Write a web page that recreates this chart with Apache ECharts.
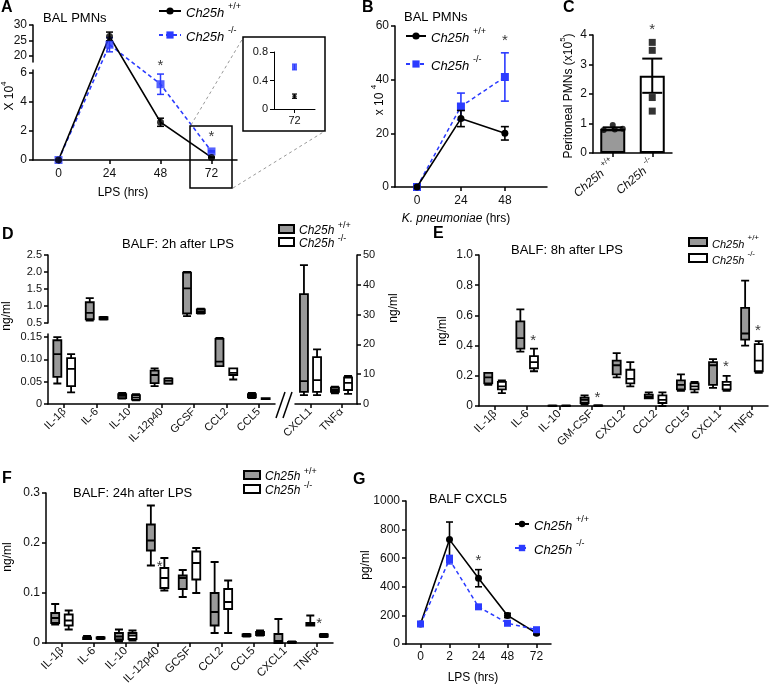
<!DOCTYPE html>
<html><head><meta charset="utf-8">
<script src="https://cdn.jsdelivr.net/npm/echarts@6/dist/echarts.min.js"></script>
<style>html,body{margin:0;padding:0;background:#fff}#c{width:769px;height:693px}</style>
</head><body><div id="c"></div>
<script>
// ================= DATA =================
// Panel A: BAL PMNs after LPS (x10^4)
const aHours = ['0', '24', '48', '72'];
const aWtMean = [0, 26.3, 2.6, 0.18];
const aWtErr  = [0, 1.4, 0.28, 0.03];
const aKoMean = [0, 23.6, 5.22, 0.59];
const aKoErr  = [0, 2.3, 0.7, 0.04];
const aBreak = 6.2;
const aLowTicks = [0, 2, 4, 6];
const aHighTicks = [20, 25, 30];
const aStars = [['48', 6.7], ['72', 1.8]];

// Panel B: BAL PMNs after K. pneumoniae (x10^4)
const bHours = [0, 24, 48];
const bWtMean = [0, 25.5, 20];
const bWtErr  = [0, 3, 2.5];
const bKoMean = [0, 30, 41];
const bKoErr  = [0, 5, 9];
const bTicksX = [0, 24, 48];
const bStars = [[48, 55.5]];

// Panel C: peritoneal PMNs (x10^5)
const cGroups = ['wt', 'ko'];
const cMean = [0.82, 2.62];
const cSem  = [0.05, 0.58];
const cWtPoints = [0.95, 0.78, 0.80, 0.82];
const cKoPoints = [3.75, 3.48, 1.88, 1.42];
const cStars = [['ko', 4.27]];

// Panel D: BALF 2h after LPS  [min, Q1, median, Q3, max]
const dLeftCats = ['IL-1β', 'IL-6', 'IL-10', 'IL-12p40', 'GCSF', 'CCL2', 'CCL5'];
const dRightCats = ['CXCL1', 'TNFα'];
const dBreak = 0.5;
const dWtLeft = [
  [0.046, 0.061, 0.112, 0.143, 0.150],
  [0.57, 0.61, 0.80, 1.11, 1.23],
  [0.012, 0.013, 0.018, 0.022, 0.025],
  [0.040, 0.047, 0.065, 0.075, 0.080],
  [0.70, 0.78, 1.52, 1.98, 2.00],
  [0.085, 0.085, 0.095, 0.146, 0.148],
  [0.013, 0.015, 0.019, 0.022, 0.025]
];
const dKoLeft = [
  [0.026, 0.040, 0.079, 0.103, 0.112],
  [0.60, 0.61, 0.64, 0.67, 0.68],
  [0.008, 0.010, 0.015, 0.020, 0.022],
  [0.045, 0.046, 0.052, 0.057, 0.058],
  [0.78, 0.79, 0.84, 0.90, 0.92],
  [0.055, 0.065, 0.070, 0.080, 0.080],
  [0.011, 0.011, 0.012, 0.013, 0.013]
];
const dWtRight = [[3, 4.1, 7.7, 36.9, 46.6], [3.6, 4.1, 4.7, 5.5, 5.8]];
const dKoRight = [[3, 4.1, 8, 15.7, 18.3], [3.4, 4.7, 7.1, 8.9, 9.4]];

// Panel E: BALF 8h after LPS
const eCats = ['IL-1β', 'IL-6', 'IL-10', 'GM-CSF', 'CXCL2', 'CCL2', 'CCL5', 'CXCL1', 'TNFα'];
const eWt = [
  [0.14, 0.15, 0.19, 0.22, 0.22],
  [0.36, 0.38, 0.45, 0.56, 0.64],
  [0.000, 0.001, 0.002, 0.003, 0.004],
  [0.01, 0.02, 0.04, 0.055, 0.07],
  [0.19, 0.21, 0.27, 0.30, 0.35],
  [0.05, 0.05, 0.06, 0.075, 0.09],
  [0.10, 0.11, 0.14, 0.17, 0.21],
  [0.12, 0.14, 0.27, 0.29, 0.31],
  [0.40, 0.44, 0.48, 0.65, 0.83]
];
const eKo = [
  [0.085, 0.11, 0.13, 0.16, 0.17],
  [0.23, 0.25, 0.29, 0.33, 0.38],
  [0.000, 0.001, 0.002, 0.003, 0.004],
  [0.000, 0.001, 0.003, 0.004, 0.005],
  [0.13, 0.15, 0.18, 0.24, 0.29],
  [0.00, 0.02, 0.04, 0.07, 0.09],
  [0.09, 0.11, 0.13, 0.15, 0.16],
  [0.10, 0.11, 0.14, 0.16, 0.20],
  [0.22, 0.23, 0.30, 0.41, 0.43]
];
const eStars = [['IL-6', 0.45], ['GM-CSF', 0.075], ['CXCL1', 0.28], ['TNFα', 0.52]];

// Panel F: BALF 24h after LPS
const fCats = ['IL-1β', 'IL-6', 'IL-10', 'IL-12p40', 'GCSF', 'CCL2', 'CCL5', 'CXCL1', 'TNFα'];
const fWt = [
  [0.037, 0.040, 0.050, 0.060, 0.078],
  [0.008, 0.008, 0.010, 0.011, 0.014],
  [0.003, 0.007, 0.013, 0.020, 0.027],
  [0.155, 0.185, 0.205, 0.237, 0.275],
  [0.092, 0.108, 0.130, 0.135, 0.146],
  [0.020, 0.035, 0.062, 0.100, 0.162],
  [0.013, 0.014, 0.015, 0.017, 0.018],
  [0.000, 0.000, 0.004, 0.018, 0.048],
  [0.035, 0.035, 0.037, 0.040, 0.055]
];
const fKo = [
  [0.027, 0.035, 0.045, 0.057, 0.065],
  [0.008, 0.009, 0.010, 0.011, 0.012],
  [0.005, 0.008, 0.015, 0.020, 0.025],
  [0.105, 0.110, 0.130, 0.150, 0.170],
  [0.100, 0.127, 0.160, 0.183, 0.190],
  [0.020, 0.068, 0.082, 0.108, 0.125],
  [0.015, 0.016, 0.018, 0.022, 0.025],
  [0.000, 0.001, 0.0015, 0.002, 0.003],
  [0.012, 0.013, 0.015, 0.017, 0.018]
];
const fStars = [['IL-12p40', 0.159], ['TNFα', 0.044]];

// Panel G: BALF CXCL5 (pg/ml)
const gHours = ['0', '2', '24', '48', '72'];
const gWtMean = [140, 730, 460, 200, 75];
const gWtErr  = [10, 123, 60, 15, 10];
const gKoMean = [140, 590, 260, 145, 100];
const gKoErr  = [10, 30, 15, 10, 10];
const gStars = [['24', 601]];

// ================= STYLE / HELPERS =================
const FONT = "'Liberation Sans', Arial, Helvetica, sans-serif";
const BLUE = '#2b3bff', GRAY = '#999999', BLACK = '#000000';
const NA = ['-', '-', '-', '-', '-'];

function merge(a, b) {
  const o = Object.assign({}, a);
  for (const k in b) {
    if (b[k] && typeof b[k] === 'object' && !Array.isArray(b[k]) && a[k] && typeof a[k] === 'object' && !Array.isArray(a[k])) o[k] = merge(a[k], b[k]);
    else o[k] = b[k];
  }
  return o;
}
const AX = {
  axisLine: {show: true, onZero: false, lineStyle: {color: BLACK, width: 1.5}},
  axisTick: {show: true, length: 4, lineStyle: {color: BLACK, width: 1.5}},
  axisLabel: {color: '#111', fontFamily: FONT, fontSize: 12, margin: 6},
  splitLine: {show: false}
};
function catX(g, data, extra) {
  return merge(merge(AX, {type: 'category', gridIndex: g, data, boundaryGap: true,
    axisTick: {alignWithLabel: true}, axisLabel: {interval: 0}}), extra || {});
}
function valY(g, extra) { return merge(merge(AX, {type: 'value', gridIndex: g}), extra || {}); }
const fmt = d => v => (v === 0 ? '0' : v.toFixed(d));

function errSeries(ai, data, color, cap, lw, z) {
  return {type: 'custom', xAxisIndex: ai, yAxisIndex: ai, data, z: z || 3, silent: true, clip: false,
    encode: {x: 0, y: [1, 2]},
    renderItem(params, api) {
      const x = api.value(0), lo = api.value(1), hi = api.value(2);
      const p1 = api.coord([x, lo]), p2 = api.coord([x, hi]);
      const st = {stroke: color, lineWidth: lw, fill: null};
      return {type: 'group', children: [
        {type: 'line', shape: {x1: p1[0], y1: p1[1], x2: p2[0], y2: p2[1]}, style: st},
        {type: 'line', shape: {x1: p1[0] - cap, y1: p1[1], x2: p1[0] + cap, y2: p1[1]}, style: st},
        {type: 'line', shape: {x1: p2[0] - cap, y1: p2[1], x2: p2[0] + cap, y2: p2[1]}, style: st}
      ]};
    }};
}
function errData(xs, means, errs, keep) {
  return means.map((v, i) => (errs[i] > 0 && (!keep || keep(v))) ? [xs[i], v - errs[i], v + errs[i]] : null).filter(Boolean);
}
function starSeries(ai, data, dx, size) {
  return {type: 'scatter', xAxisIndex: ai, yAxisIndex: ai, data, symbol: 'circle', symbolSize: 1,
    itemStyle: {color: 'rgba(0,0,0,0)'}, silent: true, clip: false, z: 6,
    label: {show: true, position: 'inside', formatter: '*', color: BLACK, fontSize: size || 15,
      fontFamily: FONT, offset: [dx || 0, 3]}};
}
function boxSeries(ai, data, fill, name) {
  return {type: 'boxplot', name, xAxisIndex: ai, yAxisIndex: ai, data, boxWidth: [8, 8],
    itemStyle: {color: fill, borderColor: BLACK, borderWidth: 1.8}, emphasis: {disabled: true}, silent: true};
}
function legendOne(name, left, yc, w, h, fs, lh) {
  lh = lh || 17;
  return {show: true, selectedMode: false, orient: 'vertical', left, top: yc - lh / 2, padding: 0,
    itemWidth: w, itemHeight: h, data: [name],
    formatter: n => (n.endsWith('wt') ? '{i|Ch25h} {s|+/+}' : '{i|Ch25h} {s|-/-}'),
    textStyle: {color: BLACK, fontFamily: FONT, fontSize: fs,
      rich: {i: {fontStyle: 'italic', fontSize: fs, fontFamily: FONT, lineHeight: lh, verticalAlign: 'bottom'},
             s: {fontSize: Math.round(fs * 0.72), fontFamily: FONT, lineHeight: 9, verticalAlign: 'top'}}}};
}
function boxLegend(name, left, yc, w, fs, fill) {
  const l = legendOne(name, left, yc, w, 8, fs, 16);
  l.data = [{name, icon: 'rect', itemStyle: {color: fill, borderColor: BLACK, borderWidth: 2}}];
  return l;
}
function gtext(x, y, text, size, extra) {
  return {type: 'text', x, y, silent: true, z: 50,
    style: Object.assign({text, fill: BLACK, fontFamily: FONT, fontSize: size, align: 'left', verticalAlign: 'middle'}, extra || {})};
}
function vtext(x, y, text, size, rich) {
  return {type: 'text', x, y, rotation: Math.PI / 2, silent: true, z: 50,
    style: {text, fill: BLACK, fontFamily: FONT, fontSize: size, align: 'center', verticalAlign: 'middle', rich: rich || {}}};
}

// ================= GRIDS / AXES =================
const grids = [
  {left: 33, top: 70, width: 204, height: 90},    // 0 A lower
  {left: 33, top: 25, width: 204, height: 37},    // 1 A upper
  {left: 274, top: 52, width: 41, height: 57},    // 2 A inset
  {left: 395, top: 26, width: 152, height: 161},  // 3 B
  {left: 593, top: 35, width: 79, height: 118},   // 4 C
  {left: 48, top: 334, width: 227, height: 70},   // 5 D lower
  {left: 48, top: 255, width: 227, height: 68},   // 6 D upper
  {left: 295, top: 255, width: 62, height: 149},  // 7 D right
  {left: 479, top: 255, width: 289, height: 151}, // 8 E
  {left: 46, top: 493, width: 287, height: 150},  // 9 F
  {left: 406, top: 501, width: 145, height: 143}  // 10 G
].map(g => Object.assign({outerBoundsMode: 'none', containLabel: false}, g));

const cRich = {i: {fontStyle: 'italic', fontSize: 12, fontFamily: FONT, lineHeight: 16, verticalAlign: 'bottom'},
               s: {fontSize: 8, fontFamily: FONT, lineHeight: 8, verticalAlign: 'top'}};
const xAxes = [
  catX(0, aHours, {axisLabel: {margin: 8}}),
  catX(1, aHours, {show: false}),
  catX(2, ['72'], {axisLine: {lineStyle: {width: 1}}, axisTick: {lineStyle: {width: 1}}, axisLabel: {fontSize: 11}}),
  merge(AX, {type: 'value', gridIndex: 3, min: -12, max: 71,
    axisTick: {customValues: bTicksX}, axisLabel: {customValues: bTicksX, margin: 8}}),
  catX(4, cGroups, {axisLabel: {rotate: 40, margin: 8, rich: cRich,
    formatter: v => (v === 'wt' ? '{i|Ch25h} {s|+/+}' : '{i|Ch25h} {s|-/-}')}}),
  catX(5, dLeftCats, {axisLabel: {rotate: 45, fontSize: 11, margin: 6}}),
  catX(6, dLeftCats, {show: false}),
  catX(7, dRightCats, {axisLabel: {rotate: 45, fontSize: 11, margin: 6}}),
  catX(8, eCats, {axisLabel: {rotate: 45, fontSize: 11.5, margin: 6}}),
  catX(9, fCats, {axisLabel: {rotate: 45, fontSize: 11.5, margin: 6}}),
  catX(10, gHours, {axisLabel: {margin: 7}})
];
const yAxes = [
  valY(0, {min: 0, max: aBreak, axisTick: {customValues: aLowTicks}, axisLabel: {customValues: aLowTicks}}),
  valY(1, {min: 18, max: 30, axisTick: {customValues: aHighTicks}, axisLabel: {customValues: aHighTicks}}),
  valY(2, {min: 0, max: 0.8, interval: 0.4, axisLine: {lineStyle: {width: 1}}, axisTick: {lineStyle: {width: 1}},
    axisLabel: {fontSize: 11, formatter: fmt(1)}}),
  valY(3, {min: 0, max: 60, interval: 20}),
  valY(4, {min: 0, max: 4, interval: 1}),
  valY(5, {min: 0, max: 0.157, axisTick: {customValues: [0, 0.05, 0.1, 0.15]},
    axisLabel: {customValues: [0, 0.05, 0.1, 0.15], fontSize: 11, formatter: fmt(2)}}),
  valY(6, {min: 0.5, max: 2.5, interval: 0.5, axisLabel: {fontSize: 11, formatter: fmt(1)}}),
  valY(7, {min: 0, max: 50, interval: 10, position: 'right', axisLabel: {fontSize: 11}}),
  valY(8, {min: 0, max: 1, interval: 0.2, axisLabel: {formatter: fmt(1)}}),
  valY(9, {min: 0, max: 0.3, interval: 0.1, axisLabel: {formatter: fmt(1)}}),
  valY(10, {min: 0, max: 1000, interval: 200, axisLabel: {formatter: v => String(v)}})
];

// ================= SERIES =================
const series = [];
let aLinePts = null;
// Panel A connecting lines across the broken axis (pixels from the library's convertToPixel)
series.push({type: 'custom', coordinateSystem: 'none', data: [0], z: 2, silent: true,
  renderItem() {
    if (!aLinePts) return {type: 'group', children: []};
    return {type: 'group', children: [
      {type: 'polyline', shape: {points: aLinePts.ko}, style: {stroke: BLUE, lineWidth: 1.6, lineDash: [4, 3], fill: null}},
      {type: 'polyline', shape: {points: aLinePts.wt}, style: {stroke: BLACK, lineWidth: 1.6, fill: null}}
    ]};
  }});
// legend carriers for A
series.push({type: 'line', name: 'A_wt', xAxisIndex: 0, yAxisIndex: 0, data: [], symbol: 'circle', symbolSize: 7,
  itemStyle: {color: BLACK}, lineStyle: {color: BLACK, width: 1.8}});
series.push({type: 'line', name: 'A_ko', xAxisIndex: 0, yAxisIndex: 0, data: [], symbol: 'rect', symbolSize: 8,
  itemStyle: {color: BLUE}, lineStyle: {color: BLUE, width: 1.8, type: [4, 3]}});
[0, 1].forEach(g => {
  const keep = g === 1 ? (v => v > aBreak) : (v => v <= aBreak);
  const idx = aHours.map((h, i) => i);
  series.push(errSeries(g, errData(idx, aKoMean, aKoErr, keep), BLUE, 3.5, 1.5, 3));
  series.push(errSeries(g, errData(idx, aWtMean, aWtErr, keep), BLACK, 3.5, 1.5, 3));
  series.push({type: 'scatter', xAxisIndex: g, yAxisIndex: g, symbol: 'rect', symbolSize: 8, z: 4, silent: true,
    itemStyle: {color: BLUE}, data: aKoMean.map((v, i) => keep(v) ? [i, v] : null).filter(Boolean)});
  series.push({type: 'scatter', xAxisIndex: g, yAxisIndex: g, symbol: 'circle', symbolSize: 7, z: 5, silent: true,
    itemStyle: {color: BLACK}, data: aWtMean.map((v, i) => keep(v) ? [i, v] : null).filter(Boolean)});
});
series.push(starSeries(0, aStars, 0, 15));
// A inset (72 h)
series.push(errSeries(2, [[0, aKoMean[3] - aKoErr[3], aKoMean[3] + aKoErr[3]]], BLUE, 2.5, 1.2, 3));
series.push(errSeries(2, [[0, aWtMean[3] - aWtErr[3], aWtMean[3] + aWtErr[3]]], BLACK, 2.5, 1.2, 3));
series.push({type: 'scatter', xAxisIndex: 2, yAxisIndex: 2, symbol: 'rect', symbolSize: 5, z: 4, silent: true,
  itemStyle: {color: BLUE}, data: [[0, aKoMean[3]]]});
series.push({type: 'scatter', xAxisIndex: 2, yAxisIndex: 2, symbol: 'circle', symbolSize: 4, z: 4, silent: true,
  itemStyle: {color: BLACK}, data: [[0, aWtMean[3]]]});

// Panel B
series.push({type: 'line', name: 'B_wt', xAxisIndex: 3, yAxisIndex: 3, data: bHours.map((h, i) => [h, bWtMean[i]]),
  symbol: 'circle', symbolSize: 7, itemStyle: {color: BLACK}, lineStyle: {color: BLACK, width: 1.6}, z: 3, silent: true});
series.push({type: 'line', name: 'B_ko', xAxisIndex: 3, yAxisIndex: 3, data: bHours.map((h, i) => [h, bKoMean[i]]),
  symbol: 'rect', symbolSize: 8, itemStyle: {color: BLUE}, lineStyle: {color: BLUE, width: 1.5, type: [4, 3]}, z: 2, silent: true});
series.push(errSeries(3, errData(bHours, bKoMean, bKoErr), BLUE, 4, 1.6, 2));
series.push(errSeries(3, errData(bHours, bWtMean, bWtErr), BLACK, 4, 1.6, 3));
series.push(starSeries(3, bStars, 0, 15));

// Panel C
series.push({type: 'bar', xAxisIndex: 4, yAxisIndex: 4, barWidth: 25, silent: true, z: 2,
  itemStyle: {borderColor: BLACK, borderWidth: 2},
  data: cMean.map((v, i) => ({value: v, itemStyle: {color: i === 0 ? GRAY : '#ffffff', borderColor: BLACK, borderWidth: 2}}))});
series.push(errSeries(4, cMean.map((v, i) => [i, v - cSem[i], v + cSem[i]]), BLACK, 10, 2, 3));
const cJitter = [0, -9, 2, 10];
series.push({type: 'scatter', xAxisIndex: 4, yAxisIndex: 4, symbol: 'circle', symbolSize: 6, z: 4, silent: true,
  itemStyle: {color: BLACK}, data: cWtPoints.map((v, k) => ({value: [0, v], symbolOffset: [cJitter[k], 0]}))});
series.push({type: 'scatter', xAxisIndex: 4, yAxisIndex: 4, symbol: 'rect', symbolSize: 7, z: 4, silent: true,
  itemStyle: {color: BLACK}, data: cKoPoints.map(v => [1, v])});
series.push(starSeries(4, cStars, 0, 15));

// Panel D
series.push(boxSeries(5, dWtLeft.map(r => (r[0] >= dBreak ? NA : r)), GRAY, 'D_wt'));
series.push(boxSeries(5, dKoLeft.map(r => (r[0] >= dBreak ? NA : r)), '#ffffff', 'D_ko'));
series.push(boxSeries(6, dWtLeft.map(r => (r[0] >= dBreak ? r : NA)), GRAY, 'D_wt_up'));
series.push(boxSeries(6, dKoLeft.map(r => (r[0] >= dBreak ? r : NA)), '#ffffff', 'D_ko_up'));
series.push(boxSeries(7, dWtRight, GRAY, 'D_wt_r'));
series.push(boxSeries(7, dKoRight, '#ffffff', 'D_ko_r'));

// Panel E
series.push(boxSeries(8, eWt, GRAY, 'E_wt'));
series.push(boxSeries(8, eKo, '#ffffff', 'E_ko'));
series.push(starSeries(8, eStars, 6, 15));

// Panel F
series.push(boxSeries(9, fWt, GRAY, 'F_wt'));
series.push(boxSeries(9, fKo, '#ffffff', 'F_ko'));
series.push(starSeries(9, fStars, 2, 15));

// Panel G
series.push({type: 'line', name: 'G_wt', xAxisIndex: 10, yAxisIndex: 10, data: gWtMean,
  symbol: 'circle', symbolSize: 7, itemStyle: {color: BLACK}, lineStyle: {color: BLACK, width: 1.6}, z: 2, silent: true});
series.push({type: 'line', name: 'G_ko', xAxisIndex: 10, yAxisIndex: 10, data: gKoMean,
  symbol: 'rect', symbolSize: 7, itemStyle: {color: BLUE}, lineStyle: {color: BLUE, width: 1.5, type: [4, 3]}, z: 3, silent: true});
const gIdx = gHours.map((h, i) => i);
series.push(errSeries(10, errData(gIdx, gWtMean, gWtErr), BLACK, 3.5, 1.6, 2));
series.push(errSeries(10, errData(gIdx, gKoMean, gKoErr), BLUE, 3.5, 1.4, 3));
series.push(starSeries(10, gStars, 0, 15));

// ================= LEGENDS =================
const legends = [
  legendOne('A_wt', 158, 11, 22, 9, 13), legendOne('A_ko', 158, 35, 22, 9, 13),
  legendOne('B_wt', 405, 36, 20, 9, 13), legendOne('B_ko', 405, 64, 20, 9, 13),
  boxLegend('D_wt', 278, 229, 15, 12, GRAY), boxLegend('D_ko', 278, 242, 15, 12, '#ffffff'),
  boxLegend('E_wt', 688, 242, 18, 11, GRAY), boxLegend('E_ko', 688, 258, 18, 11, '#ffffff'),
  boxLegend('F_wt', 243, 475, 16, 12, GRAY), boxLegend('F_ko', 243, 489, 16, 12, '#ffffff'),
  legendOne('G_wt', 514, 524, 14, 8, 13), legendOne('G_ko', 514, 548, 14, 8, 13)
];

// ================= TEXT / ANNOTATIONS =================
const supRich = {a: {fontSize: 12, fontFamily: FONT, lineHeight: 16, verticalAlign: 'bottom'},
                 s: {fontSize: 8, fontFamily: FONT, lineHeight: 8, verticalAlign: 'top'},
                 i: {fontSize: 12, fontFamily: FONT, fontStyle: 'italic'}};
const bold = {fontWeight: 'bold'};
const elements = [
  gtext(1, 8, 'A', 16, bold), gtext(362, 8, 'B', 16, bold), gtext(563, 8, 'C', 16, bold),
  gtext(2, 235, 'D', 16, bold), gtext(433, 234, 'E', 16, bold), gtext(2, 479, 'F', 16, bold),
  gtext(353, 480, 'G', 16, bold),
  gtext(43, 18, 'BAL PMNs', 13), gtext(404, 17, 'BAL PMNs', 13),
  gtext(178, 244, 'BALF: 2h after LPS', 13, {align: 'center'}),
  gtext(567, 250, 'BALF: 8h after LPS', 13, {align: 'center'}),
  gtext(73, 493, 'BALF: 24h after LPS', 13),
  gtext(429, 499, 'BALF CXCL5', 13),
  gtext(123, 193, 'LPS (hrs)', 12, {align: 'center'}),
  gtext(456, 219, '{i|K. pneumoniae} (hrs)', 12, {align: 'center', rich: supRich}),
  gtext(473, 678, 'LPS (hrs)', 12, {align: 'center'}),
  vtext(8, 96, '{a|X 10}{s|4}', 12, supRich),
  vtext(378, 100, '{a|x 10 }{s|4}', 12, supRich),
  vtext(567, 96, '{a|Peritoneal PMNs (x10}{s|5}{a|)}', 12, supRich),
  vtext(7, 316, 'ng/ml', 12), vtext(394, 308, 'ng/ml', 12),
  vtext(443, 331, 'ng/ml', 12), vtext(8, 557, 'ng/ml', 12), vtext(366, 565, 'pg/ml', 12),
  // zoom box and inset frame in A
  {type: 'rect', silent: true, z: 40, shape: {x: 190, y: 126, width: 42, height: 62}, style: {fill: null, stroke: BLACK, lineWidth: 1.5}},
  {type: 'rect', silent: true, z: 40, shape: {x: 243, y: 37, width: 82, height: 94}, style: {fill: null, stroke: BLACK, lineWidth: 1.5}},
  {type: 'line', silent: true, z: 40, shape: {x1: 191, y1: 125, x2: 243, y2: 38}, style: {stroke: '#999', lineWidth: 1, lineDash: [3, 3]}},
  {type: 'line', silent: true, z: 40, shape: {x1: 233, y1: 188, x2: 325, y2: 131}, style: {stroke: '#999', lineWidth: 1, lineDash: [3, 3]}},
  // axis break marks in D
  {type: 'line', silent: true, z: 40, shape: {x1: 276, y1: 418, x2: 285, y2: 392}, style: {stroke: BLACK, lineWidth: 1.5}},
  {type: 'line', silent: true, z: 40, shape: {x1: 283, y1: 418, x2: 292, y2: 392}, style: {stroke: BLACK, lineWidth: 1.5}}
];

const option = {
  animation: false,
  backgroundColor: '#ffffff',
  textStyle: {fontFamily: FONT},
  grid: grids, xAxis: xAxes, yAxis: yAxes,
  legend: legends, series,
  graphic: {elements}
};

const chart = echarts.init(document.getElementById('c'), null, {renderer: 'canvas', width: 769, height: 693});
chart.setOption(option);
const toPix = means => means.map((v, i) => chart.convertToPixel({gridIndex: v > aBreak ? 1 : 0}, [i, v]));
aLinePts = {wt: toPix(aWtMean), ko: toPix(aKoMean)};
chart.setOption(option, true);
</script>
</body></html>
